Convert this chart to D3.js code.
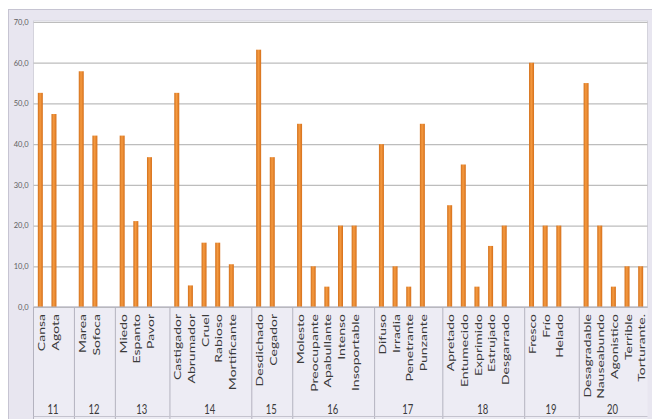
<!DOCTYPE html>
<html>
<head>
<meta charset="utf-8">
<script src="https://cdn.jsdelivr.net/npm/d3@7"></script>
<style>
  html, body { margin: 0; padding: 0; background: #ffffff; }
  svg { display: block; }
  text { font-family: Lato, "Liberation Sans", sans-serif; }
</style>
</head>
<body>
<svg id="chart" width="652" height="419"></svg>
<script>
// Group numbers (second axis level) and how many words each group holds
const groupNames = ["11", "12", "13", "14", "15", "16", "17", "18", "19", "20"];
const groupSizes = [2, 2, 3, 5, 2, 5, 4, 5, 3, 5];

// Words (first axis level), in order
const words = [
  "Cansa", "Agota",
  "Marea", "Sofoca",
  "Miedo", "Espanto", "Pavor",
  "Castigador", "Abrumador", "Cruel", "Rabioso", "Mortificante",
  "Desdichado", "Cegador",
  "Molesto", "Preocupante", "Apabullante", "Intenso", "Insoportable",
  "Difuso", "Irradia", "Penetrante", "Punzante",
  "Apretado", "Entumecido", "Exprimido", "Estrujado", "Desgarrado",
  "Fresco", "Frío", "Helado",
  "Desagradable", "Nauseabundo", "Agonistico", "Terrible", "Torturante."
];

// Percentage of choices for each word
const values = [
  52.6, 47.4,
  57.9, 42.1,
  42.1, 21.1, 36.8,
  52.6, 5.3, 15.8, 15.8, 10.5,
  63.2, 36.8,
  45, 10, 5, 20, 20,
  40, 10, 5, 45,
  25, 35, 5, 15, 20,
  60, 20, 20,
  55, 20, 5, 10, 10
];

// Y axis ticks
const yTicks = [0, 10, 20, 30, 40, 50, 60, 70];

// Build the category slots: each group's words followed by one empty slot (not after the last group)
const slots = [];
const groupSpans = [];
let w = 0;
groupSizes.forEach((n, gi) => {
  const first = slots.length;
  for (let k = 0; k < n; k++, w++) {
    slots.push({ key: "w" + w, word: words[w], value: values[w], group: gi });
  }
  if (gi < groupSizes.length - 1) slots.push({ key: "gap" + gi, word: null, value: null, group: gi });
  groupSpans.push({ name: groupNames[gi], first: slots[first].key, last: slots[slots.length - 1].key });
});

const svg = d3.select("#chart");
const plot = { left: 33.5, right: 647.5, top: 21, bottom: 307 };
const stretch = 1.4; // tall, narrow lettering of the axis labels

const x = d3.scaleBand()
  .domain(slots.map(d => d.key))
  .range([plot.left, plot.right])
  .paddingInner(0).paddingOuter(0);

const y = d3.scaleLinear().domain([0, 70]).range([plot.bottom, 22]);

const esLocale = d3.formatLocale({ decimal: ",", thousands: ".", grouping: [3], currency: ["", " €"] });
const fmt = esLocale.format(".1f");

// Outer chart frame
svg.append("rect")
  .attr("x", 8.5).attr("y", 9.5).attr("width", 660).attr("height", 420)
  .attr("fill", "#e8e6f0").attr("stroke", "#c6c4d2");

// Category label band
svg.append("rect")
  .attr("x", plot.left).attr("y", plot.bottom)
  .attr("width", plot.right - plot.left).attr("height", 419 - plot.bottom)
  .attr("fill", "#edecf4");

// Plot area
svg.append("rect")
  .attr("x", plot.left).attr("y", plot.top)
  .attr("width", plot.right - plot.left).attr("height", plot.bottom - plot.top)
  .attr("fill", "#ffffff").attr("stroke", "#d4d3dc");

// Gridlines and y axis
const yAxis = d3.axisLeft(y).tickValues(yTicks).tickFormat(fmt).tickSize(-(plot.right - plot.left)).tickPadding(5);
const gy = svg.append("g").attr("transform", `translate(${plot.left},0)`).call(yAxis);
gy.select(".domain").remove();
gy.selectAll(".tick line").attr("stroke", "#bdbdbd").attr("stroke-width", 1.2);
gy.selectAll(".tick text").attr("fill", "#606060").attr("font-size", 7.5).attr("x", -5)
  .attr("transform", `scale(1,1.15)`).attr("y", 0).attr("dy", "0.32em");
// keep the stretched tick labels centred on their gridlines
gy.selectAll(".tick text").attr("transform", null);

// Bar shading
const defs = svg.append("defs");
const grad = defs.append("linearGradient").attr("id", "barFill").attr("x1", "0").attr("x2", "1").attr("y1", "0").attr("y2", "0");
grad.append("stop").attr("offset", "0%").attr("stop-color", "#d2701c");
grad.append("stop").attr("offset", "45%").attr("stop-color", "#f59a40");
grad.append("stop").attr("offset", "100%").attr("stop-color", "#d56f1a");

const barW = 5;
const filled = slots.filter(d => d.word !== null);
svg.append("g").selectAll("rect")
  .data(filled)
  .join("rect")
  .attr("x", d => x(d.key) + x.bandwidth() / 2 - barW / 2)
  .attr("y", d => y(d.value))
  .attr("width", barW)
  .attr("height", d => y(0) - y(d.value))
  .attr("fill", "url(#barFill)");

// Baseline
svg.append("line")
  .attr("x1", plot.left).attr("x2", plot.right)
  .attr("y1", plot.bottom).attr("y2", plot.bottom)
  .attr("stroke", "#b4b3bf");

// Word labels (rotated, reading upwards)
svg.append("g").selectAll("text")
  .data(filled)
  .join("text")
  .attr("transform", d => `translate(${x(d.key) + x.bandwidth() / 2 + 1},${plot.bottom + 7}) scale(1,${stretch}) rotate(-90)`)
  .attr("text-anchor", "end")
  .attr("dy", "0.36em")
  .attr("font-size", 10)
  .attr("fill", "#3a3a3a")
  .text(d => d.word);

// Group dividers
const dividers = [plot.left].concat(groupSpans.slice(0, -1).map(g => x(g.last) + x.bandwidth()));
svg.append("g").selectAll("line")
  .data(dividers)
  .join("line")
  .attr("x1", d => d).attr("x2", d => d)
  .attr("y1", plot.bottom).attr("y2", 419)
  .attr("stroke", "#b4b3bf");

// Bottom rule
svg.append("line")
  .attr("x1", plot.left).attr("x2", plot.right)
  .attr("y1", 416.5).attr("y2", 416.5)
  .attr("stroke", "#c4c3ce");

// Group labels
svg.append("g").selectAll("text")
  .data(groupSpans)
  .join("text")
  .attr("transform", g => `translate(${(x(g.first) + x(g.last) + x.bandwidth()) / 2 - 1},414) scale(1,${stretch})`)
  .attr("text-anchor", "middle")
  .attr("font-size", 9.5)
  .attr("fill", "#3a3a3a")
  .text(g => g.name);
</script>
</body>
</html>
